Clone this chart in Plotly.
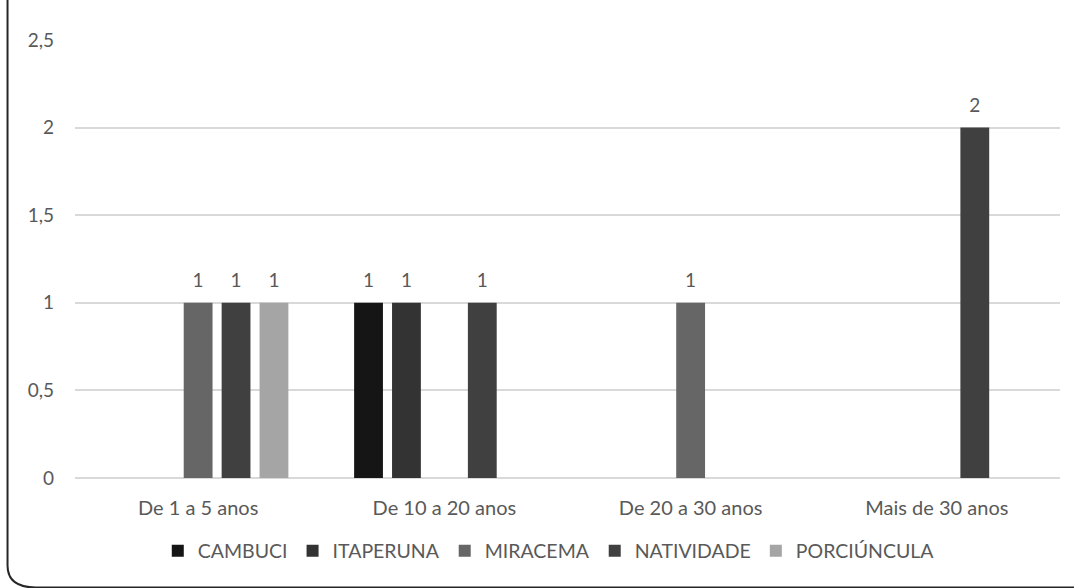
import plotly.graph_objects as go

categories = ["De 1 a 5 anos", "De 10 a 20 anos", "De 20 a 30 anos", "Mais de 30 anos"]
series_names = ["CAMBUCI", "ITAPERUNA", "MIRACEMA", "NATIVIDADE", "PORCIÚNCULA"]
cambuci = [None, 1, None, None]
itaperuna = [None, 1, None, None]
miracema = [1, None, 1, None]
natividade = [1, 1, None, 2]
porciuncula = [1, None, None, None]
series_values = [cambuci, itaperuna, miracema, natividade, porciuncula]
colors = ["#151515", "#333333", "#666666", "#404040", "#a5a5a5"]
y_ticks = [0, 0.5, 1, 1.5, 2, 2.5]

FONT = "Lato"
TXT = "#595959"
FS = 19

fig = go.Figure()
for name, vals, col in zip(series_names, series_values, colors):
    fig.add_trace(go.Bar(
        x=categories, y=vals, name=name, offsetgroup=name,
        marker=dict(color=col, line=dict(width=0)),
        hoverinfo="skip",
    ))
# data labels, grouped the same way as the bars
for name, vals in zip(series_names, series_values):
    fig.add_trace(go.Scatter(
        x=categories, y=vals, name=name, offsetgroup=name,
        mode="markers+text", showlegend=False,
        marker=dict(size=16, opacity=0),
        text=[None if v is None else f"{v:g}" for v in vals],
        textposition="top center",
        textfont=dict(family=FONT, size=FS, color=TXT),
        cliponaxis=False, hoverinfo="skip",
    ))

fig.update_layout(
    width=1074, height=588,
    margin=dict(l=75, r=14, t=40, b=110),
    paper_bgcolor="white", plot_bgcolor="white",
    barmode="group", bargap=0.23, bargroupgap=0.24,
    scattermode="group", scattergap=0.23,
    separators=",.",
    font=dict(family=FONT, size=FS, color=TXT),
    showlegend=True,
    legend=dict(orientation="h", x=0.481, xanchor="center", y=-0.167, yanchor="middle",
                font=dict(family=FONT, size=19.5, color=TXT), itemwidth=30,
                traceorder="normal"),
    xaxis=dict(showline=False, showgrid=False, ticks="", tickfont=dict(family=FONT, size=20, color=TXT),
               ticklabelstandoff=16),
    yaxis=dict(range=[0, 2.5], tickvals=y_ticks, showgrid=True, gridcolor="#d9d9d9", gridwidth=1.5,
               zeroline=True, zerolinecolor="#d9d9d9", zerolinewidth=1.5, showline=False, ticks="",
               tickfont=dict(family=FONT, size=FS, color=TXT), ticklabelstandoff=20),
    shapes=[dict(type="path", xref="paper", yref="paper",
                 path="M -0.0685,1.1 L -0.0685,-0.2 Q -0.0685,-0.25 -0.04,-0.25 L 1.02,-0.25",
                 line=dict(color="#262626", width=2), layer="above")],
)
fig.write_html("out.html", config={"displayModeBar": False},
               post_script="document.body.style.margin='0';document.body.style.padding='0';")
